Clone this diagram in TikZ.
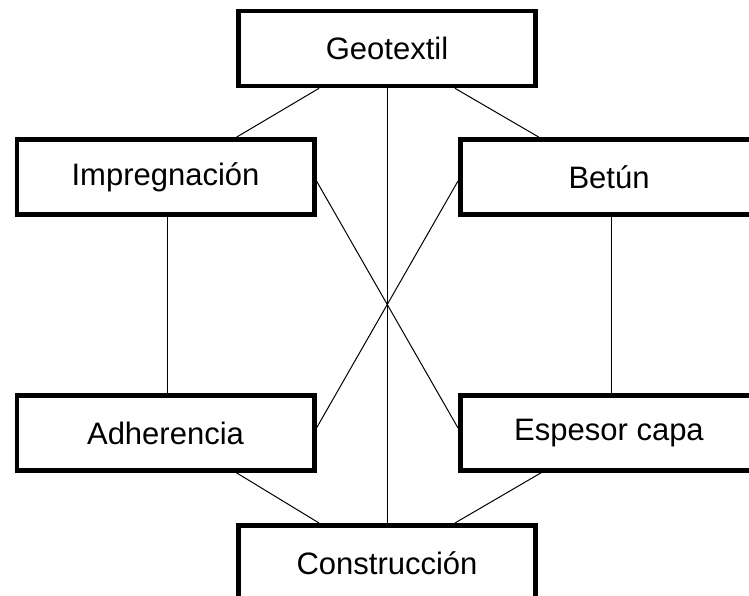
\documentclass[tikz,border=0pt]{standalone}
\usepackage{fontspec}
\setmainfont{Liberation Sans}
\usetikzlibrary{backgrounds,calc}
\begin{document}
\begin{tikzpicture}[x=1pt,y=-1pt,
  box/.style={draw, line width=4.6pt, fill=white, minimum width=297.4pt,
    minimum height=75pt, inner sep=0pt, font=\fontsize{31}{37}\selectfont},
  link/.style={line width=1pt}]
\useasboundingbox (0,0) rectangle (749,596);
\clip (0,0) rectangle (749,596);
\node[box] (geo) at (387,48.5) {Geotextil};
\node[box] (imp) at (165.5,177) {Impregnación};
\node[box] (bet) at (609,177) {Betún};
\node[box] (adh) at (165.5,433) {Adherencia};
\node[box] (esp) at (609,433) {Espesor capa};
\node[box] (con) at (387,562.8) {Construcción};
\begin{pgfonlayer}{background}
\draw[link] ($(geo.south west)!0.275!(geo.south east)$) -- ($(imp.north west)!0.735!(imp.north east)$);
\draw[link] ($(geo.south west)!0.725!(geo.south east)$) -- ($(bet.north west)!0.268!(bet.north east)$);
\draw[link] (geo.south) -- (con.north);
\draw[link] ([xshift=1.5pt]imp.south) -- ([xshift=1.5pt]adh.north);
\draw[link] ([xshift=2pt]bet.south) -- ([xshift=2pt]esp.north);
\draw[link] ([yshift=-4pt]imp.east) -- ([yshift=5pt]esp.west);
\draw[link] ([yshift=-4pt]bet.west) -- ([yshift=5pt]adh.east);
\draw[link] ($(adh.south west)!0.735!(adh.south east)$) -- ($(con.north west)!0.275!(con.north east)$);
\draw[link] ($(esp.south west)!0.275!(esp.south east)$) -- ($(con.north west)!0.725!(con.north east)$);
\end{pgfonlayer}
\end{tikzpicture}
\end{document}
